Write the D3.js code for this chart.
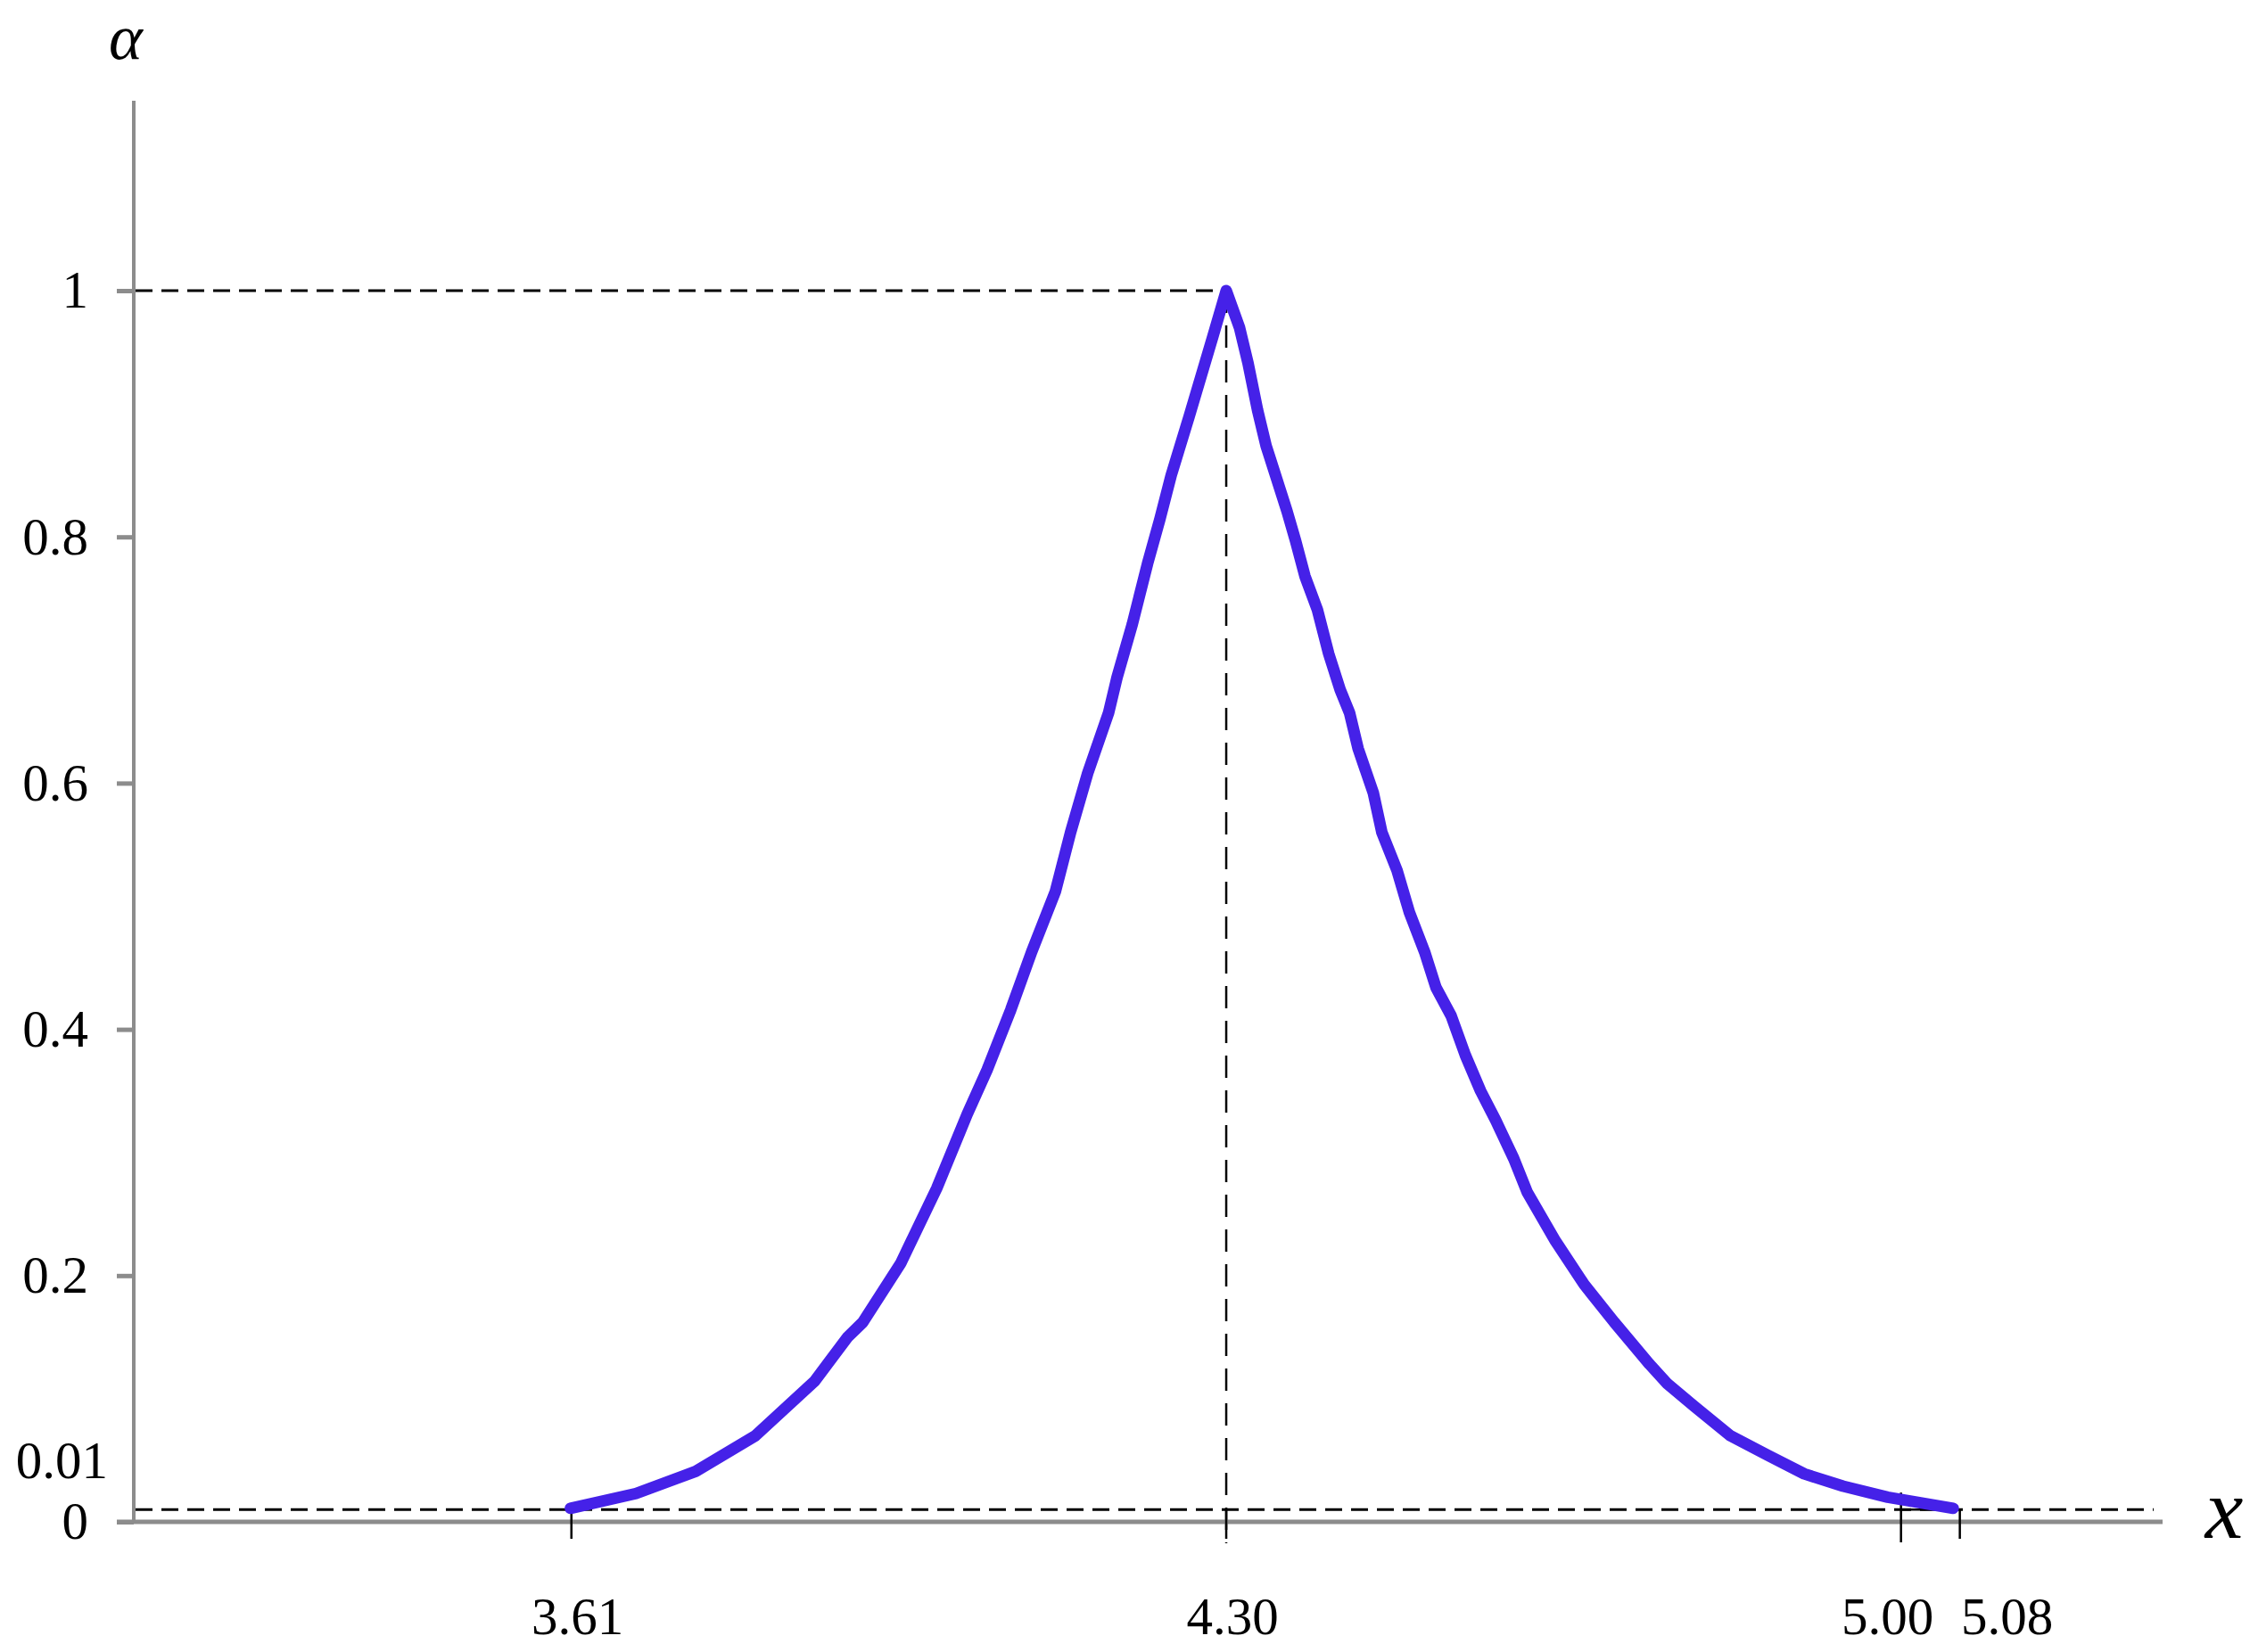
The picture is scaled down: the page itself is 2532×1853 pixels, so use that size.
<!DOCTYPE html>
<html>
<head>
<meta charset="utf-8">
<script src="https://cdnjs.cloudflare.com/ajax/libs/d3/7.8.5/d3.min.js"></script>
<style>
body { margin: 0; background: #fff; }
svg text { font-family: "Liberation Serif", "Times New Roman", serif; fill: #000; }
</style>
</head>
<body>
<svg id="chart" width="2532" height="1853"></svg>
<script>
// membership curve
var leftX = [3.609, 3.678, 3.741, 3.804, 3.866, 3.901, 3.917, 3.957, 3.995, 4.027, 4.048, 4.073,
  4.095, 4.120, 4.136, 4.154, 4.176, 4.185, 4.201, 4.217, 4.230, 4.242, 4.261, 4.286, 4.300];
var leftAlpha = [0.011, 0.023, 0.041, 0.070, 0.114, 0.150, 0.162, 0.210, 0.271, 0.331, 0.367, 0.416,
  0.463, 0.512, 0.560, 0.608, 0.657, 0.686, 0.729, 0.778, 0.814, 0.850, 0.898, 0.963, 1.0];
var rightX = [4.300, 4.314, 4.323, 4.333, 4.342, 4.352, 4.364, 4.373, 4.383, 4.396, 4.408, 4.420,
  4.430, 4.439, 4.455, 4.464, 4.480, 4.493, 4.509, 4.521, 4.537, 4.552, 4.568, 4.584, 4.603, 4.617,
  4.647, 4.677, 4.709, 4.746, 4.765, 4.793, 4.831, 4.871, 4.909, 4.950, 4.997, 5.066];
var rightAlpha = [1.0, 0.970, 0.941, 0.903, 0.874, 0.850, 0.821, 0.797, 0.768, 0.741, 0.705, 0.676,
  0.657, 0.628, 0.592, 0.560, 0.529, 0.495, 0.463, 0.434, 0.411, 0.379, 0.350, 0.326, 0.295, 0.268,
  0.228, 0.193, 0.162, 0.128, 0.112, 0.094, 0.070, 0.054, 0.039, 0.029, 0.020, 0.011];

var yTickValues = [0, 0.2, 0.4, 0.6, 0.8, 1];
var yTickLabels = ["0", "0.2", "0.4", "0.6", "0.8", "1"];
var xTickValues = [3.61, 4.30, 5.011, 5.073];
var xTickLabels = ["3.61", "4.30", "5.00", "5.08"];
var peakX = 4.30, peakAlpha = 1, lowAlpha = 0.01;

var svg = d3.select("#chart");
var axisGray = "#8c8c8c";
var curveColor = "#4521e8";

var x = d3.scaleLinear().domain([3.131, 5.281]).range([131, 2419]);
var y = d3.scaleLinear().domain([0, 1]).range([1707, 326]);
var yAxisX = 150;

// dashed guide lines
var guides = svg.append("g").attr("stroke", "#000").attr("fill", "none");
guides.append("line")
  .attr("x1", yAxisX + 2).attr("x2", x(peakX))
  .attr("y1", y(peakAlpha)).attr("y2", y(peakAlpha))
  .attr("stroke-width", 3).attr("stroke-dasharray", "19,10");
guides.append("line")
  .attr("x1", yAxisX + 2).attr("x2", 2415)
  .attr("y1", y(lowAlpha)).attr("y2", y(lowAlpha))
  .attr("stroke-width", 3).attr("stroke-dasharray", "19,10");
guides.append("line")
  .attr("x1", x(peakX)).attr("x2", x(peakX))
  .attr("y1", y(peakAlpha)).attr("y2", y(0) + 24)
  .attr("stroke-width", 2.5).attr("stroke-dasharray", "25,14");

// x axis line
svg.append("line")
  .attr("x1", 131).attr("x2", 2425)
  .attr("y1", y(0)).attr("y2", y(0))
  .attr("stroke", axisGray).attr("stroke-width", 5);

// y axis
var yAxis = d3.axisLeft(y)
  .tickValues(yTickValues)
  .tickFormat(function(d, i) { return yTickLabels[i]; })
  .tickSize(19)
  .tickPadding(32);
var gy = svg.append("g")
  .attr("transform", "translate(" + yAxisX + ",0)")
  .call(yAxis);
gy.select(".domain").remove();
gy.selectAll(".tick line").attr("stroke", axisGray).attr("stroke-width", 5);
gy.selectAll(".tick text").attr("font-size", 59).attr("fill", "#000")
  .style("font-family", "'Liberation Serif', serif");
svg.append("line")
  .attr("x1", yAxisX).attr("x2", yAxisX)
  .attr("y1", 113).attr("y2", y(0))
  .attr("stroke", axisGray).attr("stroke-width", 4);

svg.append("text")
  .attr("x", 121).attr("y", y(lowAlpha) - 35)
  .attr("text-anchor", "end").attr("font-size", 59)
  .text("0.01");

// x ticks and labels
var labelShift = [7, 7, -15, 53];
var gx = svg.append("g");
gx.selectAll("line.xt")
  .data(xTickValues)
  .enter().append("line")
  .attr("class", "xt")
  .attr("x1", function(d) { return x(d); })
  .attr("x2", function(d) { return x(d); })
  .attr("y1", function(d, i) { return i == 2 ? y(lowAlpha) - 19 : y(lowAlpha); })
  .attr("y2", function(d, i) { return i == 2 ? y(0) + 23 : y(0) + 19; })
  .attr("stroke", "#000").attr("stroke-width", 2.5);
gx.append("line")
  .attr("x1", x(xTickValues[2])).attr("x2", x(xTickValues[2]) + 35)
  .attr("y1", y(lowAlpha)).attr("y2", y(lowAlpha))
  .attr("stroke", "#000").attr("stroke-width", 2.5);
gx.selectAll("text")
  .data(xTickValues)
  .enter().append("text")
  .attr("x", function(d, i) { return x(d) + labelShift[i]; })
  .attr("y", 1833)
  .attr("text-anchor", "middle")
  .attr("font-size", 59)
  .text(function(d, i) { return xTickLabels[i]; });

// curve
var pts = leftX.map(function(v, i) { return [v, leftAlpha[i]]; })
  .concat(rightX.slice(1).map(function(v, i) { return [v, rightAlpha[i + 1]]; }));
var line = d3.line()
  .x(function(d) { return x(d[0]); })
  .y(function(d) { return y(d[1]); })
  .curve(d3.curveLinear);
svg.append("path")
  .datum(pts)
  .attr("d", line)
  .attr("fill", "none")
  .attr("stroke", curveColor)
  .attr("stroke-width", 13)
  .attr("stroke-linecap", "round")
  .attr("stroke-linejoin", "round");

// axis titles
svg.append("text")
  .attr("x", 141).attr("y", 66)
  .attr("text-anchor", "middle")
  .attr("font-size", 72).attr("font-style", "italic")
  .text("α");
svg.append("text")
  .attr("x", 2494).attr("y", 1725)
  .attr("text-anchor", "middle")
  .attr("font-size", 96).attr("font-style", "italic")
  .text("x");
</script>
</body>
</html>
